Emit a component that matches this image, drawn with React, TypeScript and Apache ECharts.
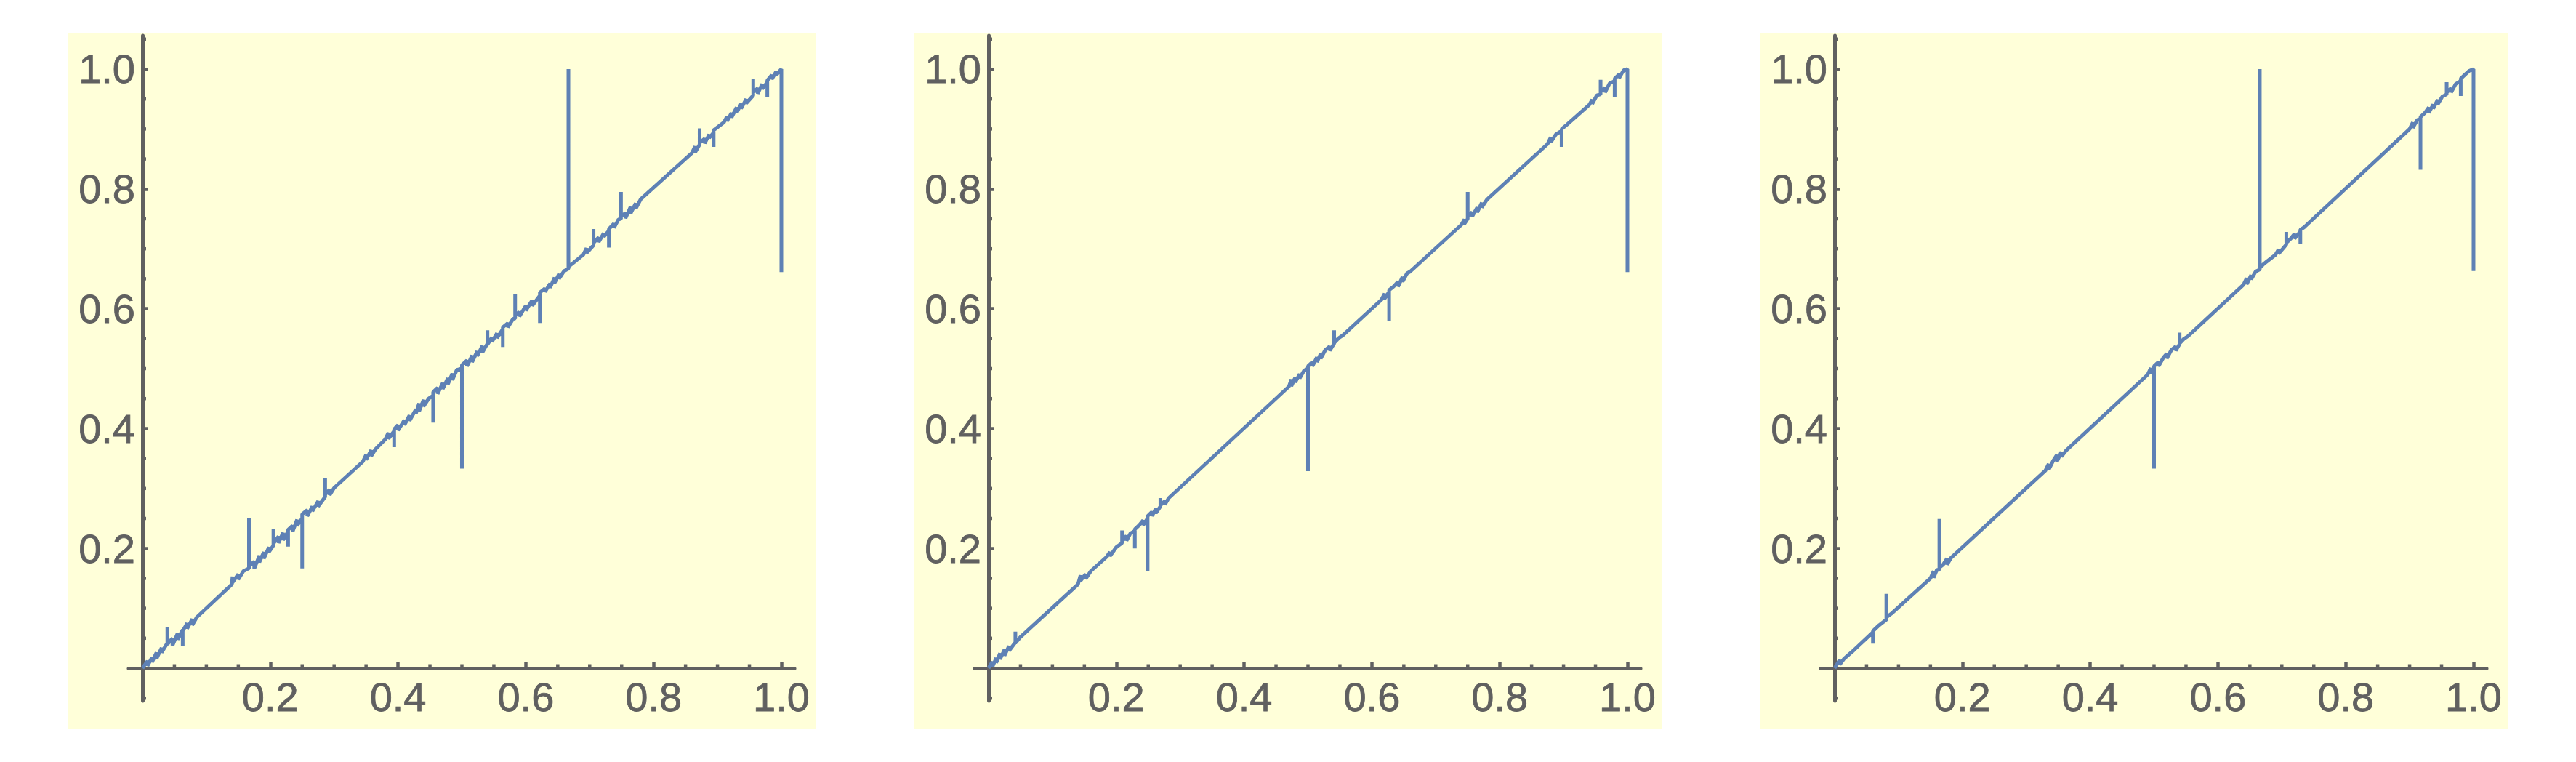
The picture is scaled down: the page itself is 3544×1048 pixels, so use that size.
import React, { useEffect, useRef } from "react";
import * as echarts from "echarts";

// Panel data: [x, y] samples
const panel1: number[][] = [
  [0, 0], [0.008, 0.012], [0.008, 0.004], [0.015, 0.018], [0.015, 0.01], [0.022, 0.026], [0.022, 0.016],
  [0.03, 0.034], [0.03, 0.026], [0.039, 0.042], [0.039, 0.069], [0.039, 0.04], [0.047, 0.05], [0.047, 0.038],
  [0.055, 0.058], [0.055, 0.048], [0.063, 0.064], [0.063, 0.037], [0.063, 0.062], [0.07, 0.075], [0.07, 0.066],
  [0.078, 0.082], [0.078, 0.072], [0.085, 0.085],
  [0.14, 0.14], [0.141, 0.153], [0.141, 0.143], [0.15, 0.157], [0.15, 0.148], [0.158, 0.162],
  [0.1667, 0.1667], [0.1667, 0.25], [0.1667, 0.17], [0.175, 0.178], [0.175, 0.166], [0.183, 0.188], [0.183, 0.177],
  [0.19, 0.194], [0.19, 0.183], [0.198, 0.202], [0.198, 0.194], [0.205, 0.205], [0.205, 0.233], [0.205, 0.208], [0.213, 0.22],
  [0.213, 0.209], [0.22, 0.226], [0.22, 0.214], [0.228, 0.228], [0.228, 0.203], [0.228, 0.231], [0.235, 0.238],
  [0.235, 0.228], [0.242, 0.248], [0.242, 0.238], [0.25, 0.25], [0.25, 0.1667], [0.25, 0.257], [0.258, 0.264],
  [0.258, 0.254], [0.266, 0.27], [0.266, 0.262], [0.275, 0.279], [0.275, 0.27], [0.286, 0.286], [0.286, 0.317], [0.286, 0.29],
  [0.293, 0.298], [0.293, 0.289], [0.3, 0.301],
  [0.345, 0.345], [0.35, 0.356], [0.35, 0.348], [0.358, 0.364], [0.358, 0.354], [0.365, 0.366], [0.38, 0.382],
  [0.385, 0.393], [0.385, 0.383], [0.394, 0.396], [0.394, 0.369], [0.394, 0.399], [0.4, 0.406], [0.4, 0.397],
  [0.41, 0.414], [0.41, 0.406], [0.418, 0.422], [0.418, 0.413], [0.428, 0.432], [0.428, 0.425], [0.433, 0.442], [0.433, 0.429], [0.44, 0.448],
  [0.44, 0.437], [0.448, 0.45], [0.455, 0.455], [0.455, 0.41], [0.455, 0.461], [0.462, 0.468], [0.462, 0.458],
  [0.47, 0.476], [0.47, 0.466], [0.478, 0.484], [0.478, 0.474], [0.485, 0.492], [0.485, 0.481], [0.492, 0.498],
  [0.5, 0.5], [0.5, 0.333], [0.5, 0.506], [0.508, 0.514], [0.508, 0.504], [0.516, 0.522], [0.516, 0.511],
  [0.524, 0.529], [0.524, 0.521], [0.532, 0.538], [0.532, 0.527], [0.54, 0.542], [0.54, 0.564], [0.54, 0.54], [0.547, 0.552],
  [0.547, 0.545], [0.555, 0.559], [0.555, 0.551], [0.564, 0.566], [0.564, 0.536], [0.564, 0.569], [0.572, 0.576], [0.572, 0.569],
  [0.58, 0.583], [0.5833, 0.5833], [0.5833, 0.625], [0.5833, 0.59], [0.59, 0.594], [0.59, 0.587], [0.6, 0.605],
  [0.6, 0.597], [0.61, 0.614], [0.61, 0.605], [0.622, 0.622], [0.622, 0.576], [0.622, 0.627], [0.63, 0.634], [0.63, 0.628],
  [0.638, 0.642], [0.638, 0.635], [0.645, 0.652], [0.645, 0.643], [0.652, 0.658], [0.652, 0.65], [0.66, 0.663],
  [0.6667, 0.6667], [0.6667, 1.0], [0.6667, 0.67], [0.675, 0.677], [0.69, 0.69], [0.695, 0.701], [0.695, 0.693],
  [0.706, 0.706], [0.706, 0.733], [0.706, 0.71], [0.714, 0.719], [0.714, 0.711], [0.722, 0.726], [0.722, 0.72], [0.73, 0.73],
  [0.73, 0.702], [0.73, 0.733], [0.738, 0.742], [0.738, 0.735], [0.745, 0.749], [0.749, 0.75], [0.749, 0.795],
  [0.749, 0.753], [0.756, 0.76], [0.756, 0.751], [0.764, 0.77], [0.764, 0.759], [0.772, 0.776], [0.772, 0.767],
  [0.78, 0.783],
  [0.86, 0.86], [0.865, 0.871], [0.865, 0.861], [0.872, 0.874], [0.872, 0.901], [0.872, 0.877], [0.88, 0.884],
  [0.88, 0.876], [0.887, 0.891], [0.887, 0.885], [0.894, 0.894], [0.894, 0.87], [0.894, 0.898], [0.9, 0.903], [0.91, 0.911],
  [0.915, 0.921], [0.915, 0.913], [0.922, 0.927], [0.922, 0.919], [0.93, 0.936], [0.93, 0.927], [0.937, 0.942],
  [0.937, 0.934], [0.945, 0.95], [0.945, 0.943], [0.956, 0.956], [0.956, 0.984], [0.956, 0.961], [0.963, 0.968],
  [0.963, 0.959], [0.97, 0.975], [0.97, 0.967], [0.978, 0.978], [0.978, 0.954], [0.978, 0.981], [0.985, 0.99],
  [0.985, 0.983], [0.992, 0.996], [0.992, 0.99], [1.0, 1.0], [1.0, 0.661],
];

const panel2: number[][] = [
  [0, 0], [0.006, 0.011], [0.006, 0.002], [0.012, 0.017], [0.012, 0.009], [0.018, 0.025], [0.018, 0.015],
  [0.025, 0.031], [0.025, 0.021], [0.032, 0.037], [0.032, 0.029], [0.042, 0.043], [0.042, 0.061], [0.042, 0.042],
  [0.05, 0.052],
  [0.14, 0.14], [0.144, 0.155], [0.144, 0.146], [0.152, 0.157], [0.152, 0.149], [0.16, 0.162],
  [0.185, 0.186], [0.19, 0.194], [0.19, 0.187], [0.2, 0.202], [0.209, 0.209], [0.209, 0.23], [0.209, 0.212],
  [0.216, 0.221], [0.216, 0.213], [0.222, 0.225], [0.229, 0.229], [0.229, 0.2], [0.229, 0.232], [0.236, 0.239],
  [0.242, 0.247], [0.242, 0.239], [0.249, 0.25], [0.249, 0.162], [0.249, 0.254], [0.256, 0.261], [0.256, 0.254],
  [0.262, 0.267], [0.262, 0.259], [0.269, 0.27], [0.269, 0.284], [0.269, 0.272], [0.276, 0.279], [0.276, 0.273],
  [0.282, 0.284],
  [0.47, 0.47], [0.474, 0.482], [0.474, 0.471], [0.48, 0.485], [0.48, 0.477], [0.487, 0.491], [0.487, 0.484],
  [0.494, 0.497], [0.5, 0.5], [0.5, 0.329], [0.5, 0.504], [0.507, 0.511], [0.507, 0.504], [0.514, 0.519],
  [0.514, 0.511], [0.52, 0.525], [0.52, 0.517], [0.527, 0.531], [0.534, 0.537], [0.534, 0.53], [0.541, 0.542],
  [0.541, 0.564], [0.541, 0.543], [0.548, 0.551], [0.555, 0.556],
  [0.615, 0.615], [0.62, 0.625], [0.62, 0.617], [0.627, 0.628], [0.627, 0.58], [0.627, 0.631], [0.634, 0.637],
  [0.641, 0.645], [0.641, 0.637], [0.648, 0.653], [0.648, 0.645], [0.655, 0.659], [0.66, 0.662],
  [0.74, 0.74], [0.745, 0.749], [0.745, 0.742], [0.75, 0.75], [0.75, 0.795], [0.75, 0.754], [0.757, 0.761],
  [0.757, 0.754], [0.765, 0.769], [0.765, 0.761], [0.772, 0.777], [0.772, 0.769], [0.78, 0.782],
  [0.875, 0.875], [0.88, 0.886], [0.88, 0.878], [0.888, 0.891], [0.897, 0.897], [0.897, 0.87], [0.897, 0.9],
  [0.905, 0.907],
  [0.94, 0.94], [0.945, 0.949], [0.945, 0.942], [0.952, 0.956], [0.958, 0.958], [0.958, 0.982], [0.958, 0.962],
  [0.965, 0.969], [0.965, 0.961], [0.972, 0.976], [0.98, 0.98], [0.98, 0.954], [0.98, 0.984], [0.987, 0.991],
  [0.987, 0.985], [0.994, 0.998], [1, 1], [1, 0.661],
];

const panel3: number[][] = [
  [0, 0], [0.008, 0.014], [0.008, 0.006], [0.015, 0.016], [0.03, 0.03], [0.06, 0.06], [0.06, 0.041],
  [0.06, 0.062], [0.07, 0.072], [0.081, 0.081], [0.081, 0.124], [0.081, 0.085], [0.09, 0.092],
  [0.15, 0.15], [0.155, 0.162], [0.155, 0.151], [0.16, 0.164], [0.164, 0.164], [0.164, 0.249], [0.164, 0.168],
  [0.17, 0.173], [0.176, 0.183], [0.176, 0.173], [0.182, 0.184],
  [0.33, 0.33], [0.335, 0.341], [0.335, 0.331], [0.342, 0.346], [0.348, 0.356], [0.348, 0.345], [0.355, 0.361],
  [0.355, 0.353], [0.362, 0.363],
  [0.49, 0.49], [0.495, 0.501], [0.495, 0.492], [0.5, 0.5], [0.5, 0.333], [0.5, 0.504], [0.507, 0.511],
  [0.507, 0.504], [0.515, 0.519], [0.52, 0.525], [0.52, 0.517], [0.527, 0.531], [0.534, 0.537], [0.534, 0.53],
  [0.54, 0.541], [0.54, 0.56], [0.54, 0.542], [0.547, 0.55], [0.553, 0.554],
  [0.64, 0.64], [0.645, 0.651], [0.645, 0.641], [0.652, 0.656], [0.652, 0.649], [0.659, 0.662], [0.6655, 0.6655],
  [0.6655, 1.0], [0.6655, 0.668], [0.672, 0.675],
  [0.69, 0.69], [0.695, 0.699], [0.695, 0.692], [0.707, 0.707], [0.707, 0.728], [0.707, 0.71], [0.714, 0.717],
  [0.72, 0.725], [0.72, 0.717], [0.729, 0.729], [0.729, 0.708], [0.729, 0.732], [0.735, 0.736],
  [0.9, 0.9], [0.905, 0.911], [0.905, 0.902], [0.912, 0.915], [0.917, 0.917], [0.917, 0.832], [0.917, 0.92],
  [0.924, 0.927], [0.93, 0.936], [0.93, 0.927], [0.937, 0.941], [0.937, 0.934], [0.944, 0.949], [0.944, 0.941],
  [0.951, 0.954], [0.958, 0.958], [0.958, 0.978], [0.958, 0.961], [0.965, 0.968], [0.965, 0.961], [0.972, 0.975],
  [0.98, 0.98], [0.98, 0.955], [0.98, 0.984], [0.987, 0.991], [0.993, 0.997], [1, 1], [1, 0.663],
];

const majorTicks = [0.2, 0.4, 0.6, 0.8, 1.0];
const xMinorTicks = [0.05, 0.1, 0.15, 0.25, 0.3, 0.35, 0.45, 0.5, 0.55, 0.65, 0.7, 0.75, 0.85, 0.9, 0.95];
const yMinorTicks = [-0.05, 0.05, 0.1, 0.15, 0.25, 0.3, 0.35, 0.45, 0.5, 0.55, 0.65, 0.7, 0.75, 0.85, 0.9, 0.95, 1.05];

const X_MIN = -0.0216;
const X_MAX = 1.0205;
const Y_MIN = -0.0546;
const Y_MAX = 1.0558;

const AXIS = "#606060";
const LINE = "#5E81B5";
const BG = "#FFFFD9";
const FONT = "'Liberation Sans', Arial, sans-serif";

export default function App() {
  const ref = useRef<HTMLDivElement>(null);
  useEffect(() => {
    const chart = echarts.init(ref.current!, null, { renderer: "svg" });
    const panels = [panel1, panel2, panel3];
    const step = 1164;
    const gw = 916;
    const gh = 915;
    // axis lines placed through the origin (offset from grid edge computed from the scale)
    const xOffset = -(gh * (0 - Y_MIN)) / (Y_MAX - Y_MIN);
    const yOffset = -(gw * (0 - X_MIN)) / (X_MAX - X_MIN);
    const labelStyle = {
      show: true,
      customValues: majorTicks,
      formatter: (v: number) => v.toFixed(1),
      color: AXIS,
      fontSize: 56,
      fontFamily: FONT,
      textBorderColor: AXIS,
      textBorderWidth: 0.8,
    };
    chart.setOption({
      animation: false,
      grid: panels.map((_, i) => ({
        left: 177 + step * i,
        top: 49,
        width: gw,
        height: gh,
        containLabel: false,
        outerBoundsMode: "none",
      })),
      xAxis: panels.map((_, i) => ({
        type: "value",
        gridIndex: i,
        min: X_MIN,
        max: X_MAX,
        position: "bottom",
        offset: xOffset,
        axisLine: { show: true, onZero: false, lineStyle: { color: AXIS, width: 5 } },
        axisTick: { show: true, inside: true, length: 9, customValues: majorTicks, lineStyle: { color: AXIS, width: 4.5 } },
        axisLabel: { ...labelStyle, margin: 11 },
        splitLine: { show: false },
      })),
      yAxis: panels.map((_, i) => ({
        type: "value",
        gridIndex: i,
        min: Y_MIN,
        max: Y_MAX,
        position: "left",
        offset: yOffset,
        axisLine: { show: true, onZero: false, lineStyle: { color: AXIS, width: 5 } },
        axisTick: { show: true, inside: true, length: 8, customValues: majorTicks, lineStyle: { color: AXIS, width: 4.5 } },
        axisLabel: { ...labelStyle, margin: 10 },
        splitLine: { show: false },
      })),
      series: panels.map((d, i) => ({
        type: "line",
        xAxisIndex: i,
        yAxisIndex: i,
        data: d,
        showSymbol: false,
        symbol: "none",
        lineStyle: { color: LINE, width: 5 },
        z: 5,
      })),
    });

    const elements: any[] = [];
    panels.forEach((_, i) => {
      elements.push({
        type: "rect",
        silent: true,
        z: -100,
        shape: { x: 93 + step * i, y: 46, width: 1030, height: 957 },
        style: { fill: BG },
      });
    });
    panels.forEach((_, i) => {
      xMinorTicks.forEach((v) => {
        const p = chart.convertToPixel({ xAxisIndex: i, yAxisIndex: i }, [v, 0]) as number[];
        elements.push({
          type: "line",
          silent: true,
          z: 1,
          shape: { x1: p[0], y1: p[1], x2: p[0], y2: p[1] - 5.5 },
          style: { stroke: AXIS, lineWidth: 4.5 },
        });
      });
      yMinorTicks.forEach((v) => {
        const p = chart.convertToPixel({ xAxisIndex: i, yAxisIndex: i }, [0, v]) as number[];
        elements.push({
          type: "line",
          silent: true,
          z: 1,
          shape: { x1: p[0], y1: p[1], x2: p[0] + 5, y2: p[1] },
          style: { stroke: AXIS, lineWidth: 4.5 },
        });
      });
    });
    chart.setOption({ graphic: { elements } });
    return () => chart.dispose();
  }, []);
  return (
    <div
      ref={ref}
      style={{ position: "absolute", left: 0, top: 0, width: 3544, height: 1048, background: "#ffffff" }}
    />
  );
}
